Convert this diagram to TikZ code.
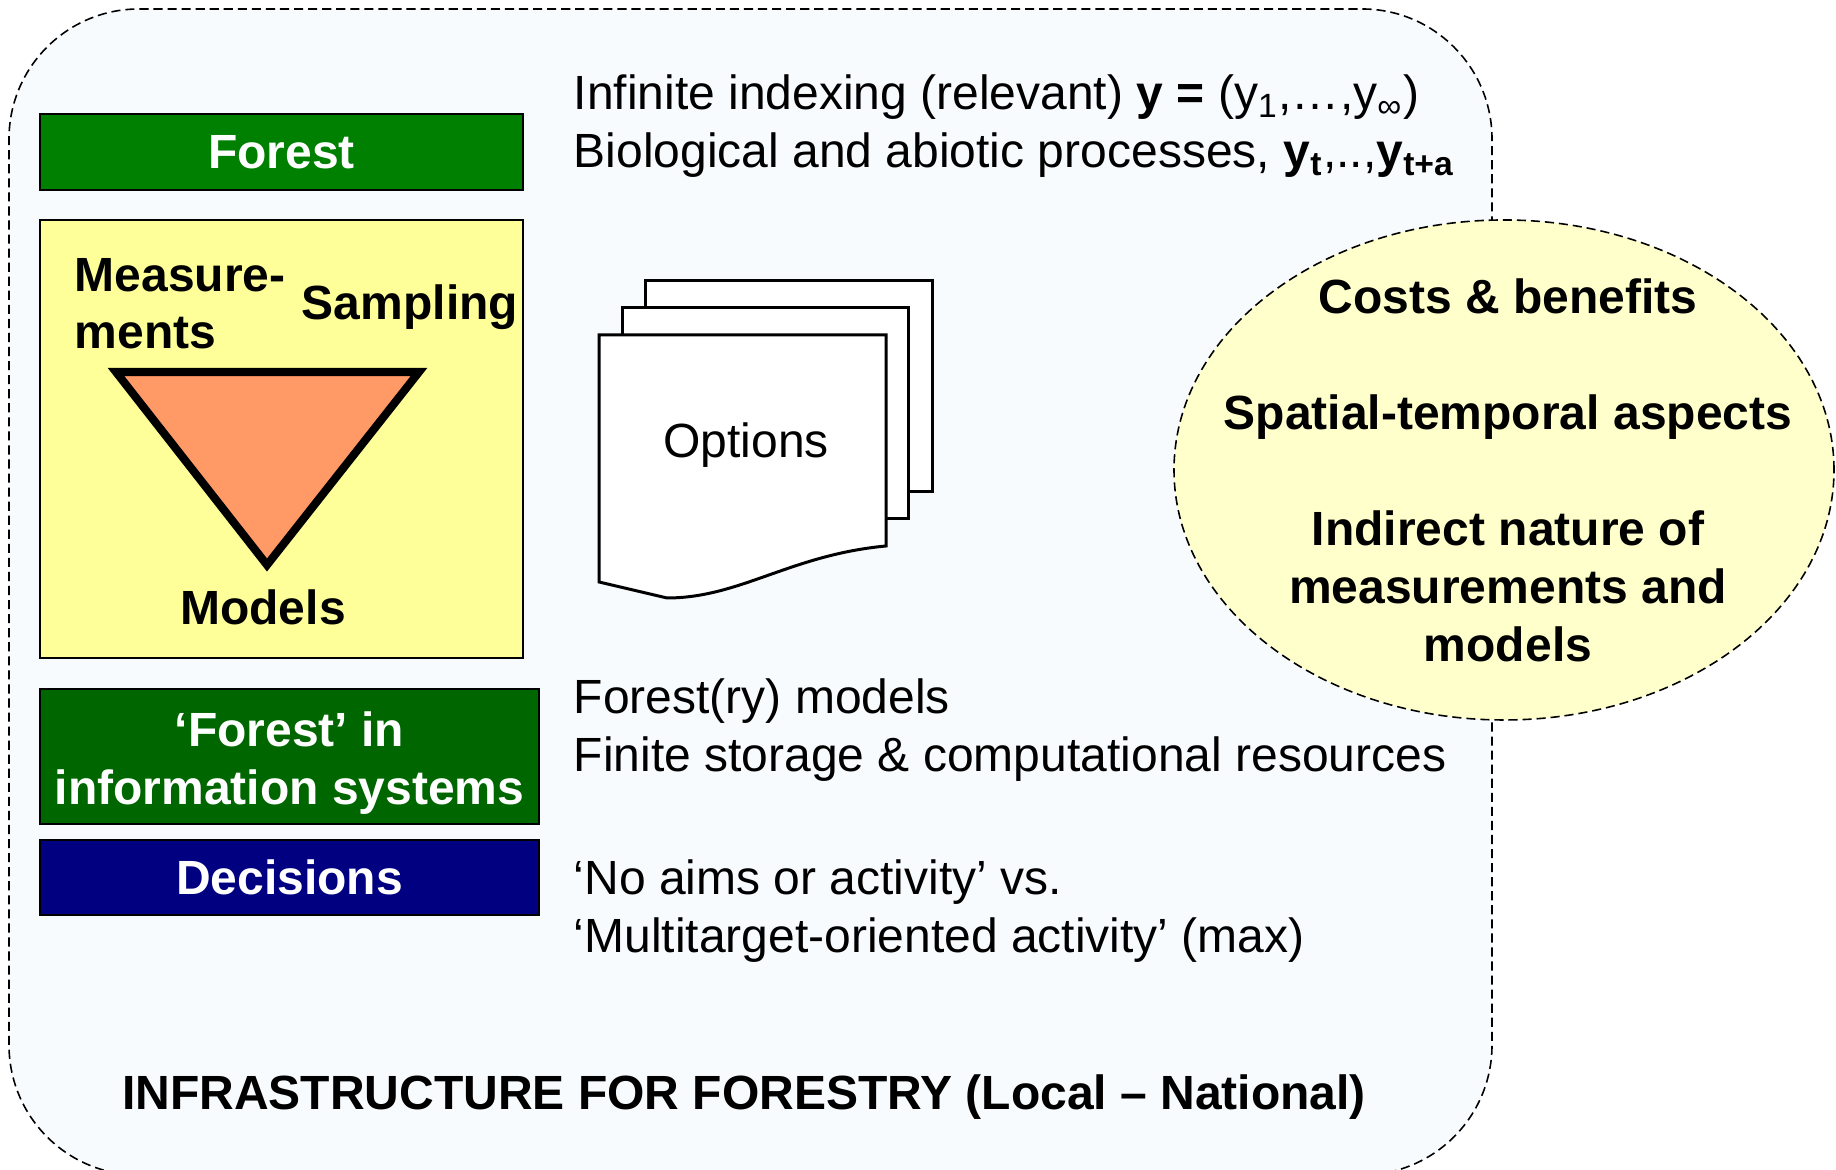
\documentclass[tikz,border=0pt]{standalone}
\usepackage{fontspec}
\setmainfont{Liberation Sans}

\definecolor{forestgreen}{HTML}{008000}
\definecolor{darkgreen}{HTML}{006600}
\definecolor{navyblue}{HTML}{000080}
\definecolor{paleyellow}{HTML}{FFFF99}
\definecolor{creamyellow}{HTML}{FFFFCC}
\definecolor{orangefill}{HTML}{FF9966}
\definecolor{skywhite}{HTML}{F7FBFE}

\begin{document}
\begin{tikzpicture}[font=\fontsize{13.66}{16.5}\selectfont,
    bar/.style={draw, line width=0.6pt, text=white, font=\fontsize{13.66}{16.5}\selectfont\bfseries, align=center},
    line/.style={anchor=base west, inner sep=0pt},
    label/.style={anchor=base, inner sep=0pt, font=\fontsize{13.66}{16.5}\selectfont\bfseries},
    dashline/.style={dash pattern=on 2.6pt off 1.4pt, line width=0.45pt},
    page/.style={draw, fill=white, line width=0.85pt}]
    \useasboundingbox (0,0) rectangle (18.36,11.70);

    % infrastructure frame
    \draw[dashline, fill=skywhite, rounded corners=1.3cm] (0.09,-0.05) rectangle (14.92,11.61);

    % left column
    \node[bar, fill=forestgreen, minimum width=4.83cm, minimum height=0.76cm] (forest) at (2.815,10.18) {Forest};
    \node[draw, line width=0.6pt, fill=paleyellow, minimum width=4.83cm, minimum height=4.38cm] (lab) at (2.815,7.31) {};
    \draw[line width=2.3pt, fill=orangefill] (1.16,7.98) -- (4.19,7.98) -- (2.67,6.05) -- cycle;
    \node[label, anchor=base west] (meas) at (0.74,8.78) {Measure-};
    \node[label, anchor=base west] (ments) at (0.74,8.21) {ments};
    \node[label] (samp) at (4.10,8.50) {Sampling};
    \node[label] (models) at (2.63,5.45) {Models};
    \node[bar, fill=darkgreen, minimum width=4.99cm, minimum height=1.35cm] (infosys) at (2.895,4.135) {};
    \node[bar, draw=none] (infotext) at ([yshift=-0.07cm]infosys.center) {‘Forest’ in\\information systems};
    \node[bar, fill=navyblue, minimum width=4.99cm, minimum height=0.75cm] (decide) at (2.895,2.925) {Decisions};

    % right column
    \node[line] (inf) at (5.73,10.60) {Infinite indexing (relevant) \textbf{y =} (y\textsubscript{1},…,y\textsubscript{∞})};
    \node[line] (bio) at (5.73,10.02) {Biological and abiotic processes, \textbf{y\textsubscript{t}},..,\textbf{y\textsubscript{t+a}}};
    \node[line] (fmod) at (5.73,4.56) {Forest(ry) models};
    \node[line] (fin) at (5.73,3.98) {Finite storage \& computational resources};
    \node[line] (aims) at (5.73,2.75) {‘No aims or activity’ vs.};
    \node[line] (multi) at (5.73,2.17) {‘Multitarget-oriented activity’ (max)};

    % stack of options
    \draw[page] (6.45,6.78) rectangle (9.32,8.89);
    \draw[page] (6.22,6.51) rectangle (9.08,8.62);
    \draw[page] (5.99,5.88) -- (5.99,8.35) -- (8.86,8.35) -- (8.86,6.24)
        .. controls (7.90,6.15) and (7.40,5.72) .. (6.67,5.72) -- cycle;
    \node[anchor=base, inner sep=0pt] (opt) at (7.46,7.12) {Options};

    \node[label] (title) at (7.44,0.60) {INFRASTRUCTURE FOR FORESTRY (Local – National)};

    % aspects
    \draw[dashline, fill=creamyellow] (15.04,7.00) ellipse [x radius=3.30, y radius=2.50];
    \node[align=center, font=\fontsize{13.66}{16.5}\selectfont\bfseries] (aspects) at (15.08,7.00)
        {Costs \& benefits\\[16.5pt]Spatial-temporal aspects\\[16.5pt]Indirect nature of\\measurements and\\models};
\end{tikzpicture}
\end{document}
